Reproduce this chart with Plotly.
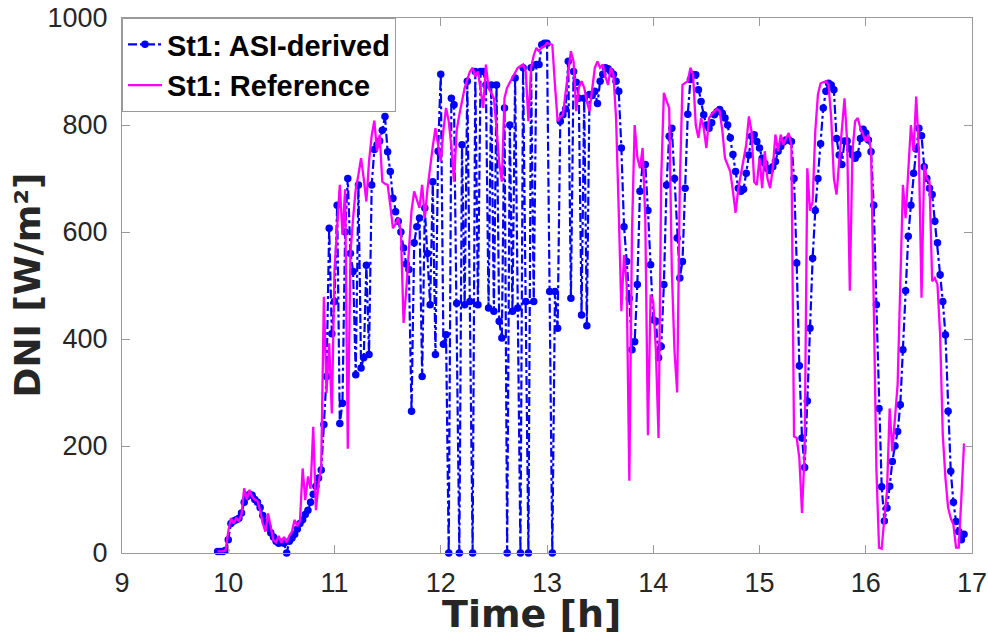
import plotly.graph_objects as go

# ---------------- data ----------------
t_start = 9.9      # h
t_step = 0.025     # h (1.5 min)

# St1: ASI-derived DNI [W/m2], one value per time step from 9.900 h
asi_dni = [
    3, 3, 3, 5, 25, 55, 60, 62, 65, 75,                      # 9.900
    95, 105, 110, 108, 100, 95, 85, 70, 58, 48,              # 10.150
    38, 30, 22, 18, 20, 18, 0, 22, 28, 35,                   # 10.400
    45, 55, 62, 72, 80, 95, 110, 125, 140, 155,              # 10.650
    240, 330, 607, 410, 470, 650, 242, 280, 600, 700,        # 10.900
    560, 526, 333, 688, 346, 365, 538, 371, 688, 754,        # 11.150
    763, 770, 790, 816, 750, 713, 663, 638, 620, 600,        # 11.400
    570, 540, 530, 265, 580, 610, 626, 330, 645, 560,        # 11.650
    464, 694, 371, 751, 895, 390, 408, 0, 850, 838,          # 11.900
    467, 0, 763, 464, 882, 470, 0, 900, 464, 900,            # 12.150
    900, 875, 458, 875, 452, 875, 433, 402, 832, 0,          # 12.400
    800, 452, 888, 458, 0, 907, 470, 0, 907, 470,            # 12.650
    913, 913, 950, 953, 953, 489, 0, 489, 420, 807,          # 12.900
    819, 830, 919, 476, 900, 880, 850, 445, 850, 425,        # 13.150
    857, 855, 863, 840, 882, 895, 907, 905, 900, 895,        # 13.400
    882, 863, 757, 610, 545, 476, 380, 395, 502, 676,        # 13.650
    726, 726, 640, 539, 436, 433, 365, 386, 502, 688,        # 13.900
    779, 794, 700, 589, 514, 545, 682, 820, 885, 894,        # 14.150
    894, 866, 844, 819, 800, 794, 804, 819, 825, 829,        # 14.400
    822, 813, 800, 776, 745, 713, 682, 676, 680, 710,        # 14.650
    744, 779, 782, 769, 757, 738, 728, 718, 715, 722,        # 14.900
    732, 751, 760, 768, 772, 772, 769, 700, 542, 350,        # 15.150
    215, 160, 284, 420, 551, 640, 700, 765, 832, 863,        # 15.400
    878, 875, 866, 775, 744, 726, 770, 770, 755, 744,        # 15.650
    738, 745, 775, 792, 785, 772, 750, 650, 464, 270,        # 15.900
    124, 60, 84, 125, 171, 200, 227, 277, 380, 490,          # 16.150
    592, 650, 710, 755, 794, 780, 722, 700, 682, 670,        # 16.400
    620, 580, 520, 470, 408, 265, 153, 95, 59, 40,           # 16.650
    25, 35,                                                  # 16.900
]

# St1: Reference DNI [W/m2], same time steps
ref_dni = [
    3, 3, 3, 5, 40, 65, 55, 65, 60, 72,                      # 9.900
    121, 100, 118, 105, 100, 97, 80, 55, 40, 74,             # 10.150
    45, 24, 20, 32, 19, 30, 20, 32, 40, 62,                  # 10.400
    50, 60, 158, 99, 143, 120, 236, 80, 130, 161,            # 10.650
    479, 299, 392, 261, 529, 600, 688, 595, 680, 195,        # 10.900
    560, 626, 680, 707, 738, 700, 657, 732, 780, 808,        # 11.150
    751, 782, 694, 690, 688, 650, 607, 615, 626, 601,        # 11.400
    430, 490, 560, 640, 676, 660, 645, 688, 626, 680,        # 11.650
    726, 760, 794, 760, 732, 790, 832, 807, 760, 694,        # 11.900
    790, 819, 845, 869, 885, 900, 907, 891, 900, 870,        # 12.150
    832, 913, 869, 860, 850, 794, 730, 694, 850, 870,        # 12.400
    880, 888, 900, 907, 910, 913, 900, 807, 907, 930,        # 12.650
    944, 938, 945, 947, 953, 952, 950, 875, 807, 815,        # 12.900
    819, 860, 900, 938, 919, 826, 870, 882, 870, 844,        # 13.150
    826, 870, 907, 919, 907, 913, 890, 875, 907, 895,        # 13.400
    813, 640, 452, 557, 502, 135, 600, 800, 740, 719,        # 13.650
    757, 626, 220, 483, 470, 377, 215, 700, 860, 845,        # 13.900
    832, 526, 377, 300, 688, 875, 878, 882, 907, 894,        # 14.150
    800, 776, 813, 794, 757, 813, 820, 826, 830, 826,        # 14.400
    790, 738, 725, 713, 676, 636, 680, 707, 740, 763,        # 14.650
    816, 788, 694, 688, 738, 682, 751, 700, 682, 719,        # 14.900
    782, 751, 782, 763, 775, 785, 763, 218, 215, 178,        # 15.150
    75, 190, 719, 640, 657, 788, 857, 878, 880, 882,         # 15.400
    875, 813, 700, 670, 732, 800, 850, 769, 490, 751,        # 15.650
    807, 813, 794, 782, 769, 782, 751, 470, 159, 10,         # 15.900
    8, 65, 115, 270, 190, 252, 315, 500, 688, 626,           # 16.150
    719, 800, 751, 853, 751, 477, 726, 700, 694, 508,        # 16.400
    514, 502, 408, 221, 140, 85, 65, 53, 10, 10,             # 16.650
    103, 205,                                                # 16.900
]

x_ticks = [9, 10, 11, 12, 13, 14, 15, 16, 17]
y_ticks = [0, 200, 400, 600, 800, 1000]

times_asi = [round(t_start + t_step * i, 3) for i in range(len(asi_dni))]
times_ref = [round(t_start + t_step * i, 3) for i in range(len(ref_dni))]

# ---------------- figure ----------------
fig = go.Figure()
fig.add_trace(go.Scatter(
    x=times_asi, y=asi_dni, mode="lines+markers", name="St1: ASI-derived",
    line=dict(color="#0000FF", width=2.2, dash="dashdot"),
    marker=dict(color="#0000FF", size=7.5, symbol="circle"),
    cliponaxis=False,
))
fig.add_trace(go.Scatter(
    x=times_ref, y=ref_dni, mode="lines", name="St1: Reference",
    line=dict(color="#FF00FF", width=2.3),
))

axis_common = dict(
    showline=True, linecolor="#9a9a9a", linewidth=1, mirror="ticks",
    ticks="inside", ticklen=8, tickwidth=1, tickcolor="#9a9a9a",
    showgrid=False, zeroline=False, automargin=False,
    tickfont=dict(family="Liberation Sans, Arial, sans-serif", size=27, color="#262626"),
)
fig.update_xaxes(range=[9, 17], tickvals=x_ticks, ticktext=[str(v) for v in x_ticks],
                 ticklabelstandoff=6, **axis_common)
fig.update_yaxes(range=[0, 1000], tickvals=y_ticks, ticktext=[str(v) for v in y_ticks],
                 ticklabelstandoff=8, **axis_common)

fig.add_annotation(text="Time [h]", xref="paper", yref="paper", x=0.482, y=0,
                   yshift=-61, xanchor="center", yanchor="middle", showarrow=False,
                   font=dict(family="DejaVu Sans", size=38, color="#262626", weight="bold"))
fig.add_annotation(text="DNI [W/m²]", xref="paper", yref="paper", x=0, y=0.5,
                   xshift=-95, xanchor="center", yanchor="middle", showarrow=False,
                   textangle=-90,
                   font=dict(family="DejaVu Sans", size=36, color="#262626", weight="bold"))

fig.update_layout(
    width=988, height=641,
    margin=dict(l=122, r=16, t=18, b=88, autoexpand=False),
    paper_bgcolor="white", plot_bgcolor="white",
    showlegend=True,
    legend=dict(x=0, y=1, xanchor="left", yanchor="top",
                bgcolor="white", bordercolor="#9a9a9a", borderwidth=1,
                font=dict(family="Liberation Sans, Arial, sans-serif", size=29,
                          color="black", weight="bold"),
                itemwidth=34, tracegroupgap=0),
)

fig.write_html("out.html", config={"displayModeBar": False},
               post_script="document.body.style.margin='0';document.body.style.overflow='hidden';")
